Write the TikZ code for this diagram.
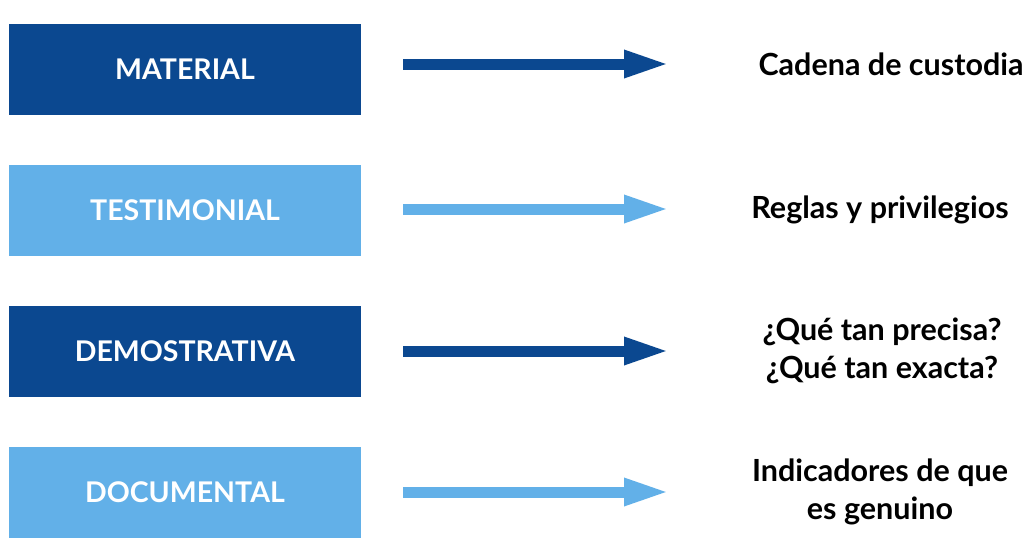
\documentclass[tikz,border=0pt]{standalone}
\usepackage{fontspec}
\setmainfont{Lato}
\usetikzlibrary{arrows.meta}
\definecolor{darkb}{HTML}{0B4890}
\definecolor{lightb}{HTML}{62B0E8}
\tikzset{
  box/.style={minimum width=352pt, minimum height=91pt, inner sep=0pt, text=white, font=\bfseries\fontsize{28.5}{32}\selectfont},
  dbox/.style={box, fill=darkb},
  lbox/.style={box, fill=lightb},
  arr/.style={line width=11pt, -{Triangle[length=46pt,width=25pt]}},
  lab/.style={align=center, font=\bfseries\fontsize{30.5}{38}\selectfont, text=black},
}
\begin{document}
\begin{tikzpicture}[x=1pt,y=-1pt]
\useasboundingbox (0,0) rectangle (1028,546);
\node[dbox] (b1) at (185,69.5) {MATERIAL};
\node[lbox] (b2) at (185,210) {TESTIMONIAL};
\node[dbox] (b3) at (185,351.5) {DEMOSTRATIVA};
\node[lbox] (b4) at (185,492) {DOCUMENTAL};
\coordinate (s1) at (403,64); \coordinate (e1) at (670,64);
\coordinate (s2) at (403,209); \coordinate (e2) at (670,209);
\coordinate (s3) at (403,351); \coordinate (e3) at (670,351);
\coordinate (s4) at (403,492); \coordinate (e4) at (670,492);
\draw[arr, darkb] (s1) -- (e1);
\draw[arr, lightb] (s2) -- (e2);
\draw[arr, darkb] (s3) -- (e3);
\draw[arr, lightb] (s4) -- (e4);
\node[lab] (t1) at (891,64) {Cadena de custodia};
\node[lab] (t2) at (880,210) {Reglas y privilegios};
\node[lab] (t3) at (882,351) {¿Qué tan precisa?\\¿Qué tan exacta?};
\node[lab] (t4) at (880,492) {Indicadores de que\\es genuino};
\end{tikzpicture}
\end{document}
